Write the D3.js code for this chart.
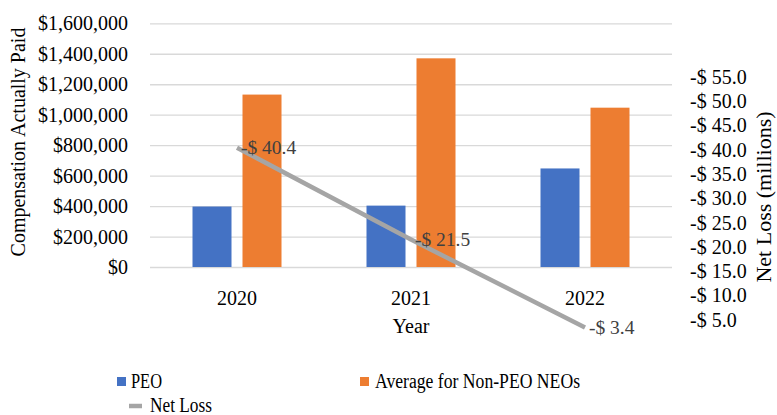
<!DOCTYPE html>
<html lang="en">
<head>
  <script src="https://d3js.org/d3.v7.min.js"></script>
  <style>
    body { margin: 0; background: #fff; }
    svg text { font-family: 'Liberation Serif', 'DejaVu Serif', serif; }
  </style>
</head>
<body>
<svg width="777" height="415" font-family="Liberation Serif, DejaVu Serif, serif"></svg>
<script>
  // chart data
  var years = ["2020", "2021", "2022"];
  var peo = [397000, 403000, 647000];
  var nonPeo = [1132000, 1370000, 1046000];
  var netLoss = [40.4, 21.5, 3.4];   // shown as negative millions
  var leftTicks = [0, 200000, 400000, 600000, 800000, 1000000, 1200000, 1400000, 1600000];
  var rightTicks = [5, 10, 15, 20, 25, 30, 35, 40, 45, 50, 55];

  var svg = d3.select("svg");
  var fs = "20px";

  var x0 = d3.scaleBand().domain(years).range([150, 672]);
  var x1 = d3.scaleBand().domain(["peo", "non"])
      .range([(x0.bandwidth() - 89) / 2, (x0.bandwidth() + 89) / 2])
      .paddingInner(0.22);
  var y = d3.scaleLinear().domain([0, 1600000]).range([267, 23.3]);
  var y2 = d3.scaleLinear().domain([0, 60]).range([344, 52.4]);

  // gridlines
  svg.append("g")
     .attr("transform", "translate(150,0)")
     .call(d3.axisLeft(y).tickValues(leftTicks).tickSize(-522).tickFormat(""))
     .call(function(g) {
        g.select(".domain").remove();
        g.selectAll("line").attr("stroke", "#d9d9d9").attr("stroke-width", 1.3);
     });

  // left tick labels
  svg.append("g")
     .selectAll("text")
     .data(leftTicks)
     .enter().append("text")
     .attr("x", 128)
     .attr("y", function(d) { return y(d); })
     .attr("dy", "0.35em")
     .attr("text-anchor", "end")
     .attr("font-size", fs)
     .attr("fill", "#000")
     .text(function(d) { return "$" + d3.format(",")(d); });

  svg.append("text")
     .attr("transform", "translate(25,142) rotate(-90)")
     .attr("text-anchor", "middle")
     .attr("font-size", fs)
     .text("Compensation Actually Paid");

  // right axis labels
  svg.append("g")
     .selectAll("text")
     .data(rightTicks)
     .enter().append("text")
     .attr("x", 690)
     .attr("y", function(d) { return y2(d); })
     .attr("dy", "0.35em")
     .attr("font-size", fs)
     .text(function(d) { return "-$ " + d3.format(".1f")(d); });

  svg.append("text")
     .attr("transform", "translate(771,197) rotate(-90)")
     .attr("text-anchor", "middle")
     .attr("font-size", "22px")
     .text("Net Loss (millions)");

  // year labels
  svg.append("g")
     .selectAll("text")
     .data(years)
     .enter().append("text")
     .attr("x", function(d) { return x0(d) + x0.bandwidth() / 2; })
     .attr("y", 305)
     .attr("text-anchor", "middle")
     .attr("font-size", fs)
     .text(function(d) { return d; });

  svg.append("text")
     .attr("x", x0("2021") + x0.bandwidth() / 2)
     .attr("y", 333)
     .attr("text-anchor", "middle")
     .attr("font-size", fs)
     .text("Year");

  // bars
  var groups = svg.selectAll(".grp")
     .data(years)
     .enter().append("g")
     .attr("class", "grp")
     .attr("transform", function(d) { return "translate(" + x0(d) + ",0)"; });

  groups.append("rect")
     .attr("x", x1("peo"))
     .attr("width", x1.bandwidth())
     .attr("y", function(d, i) { return y(peo[i]); })
     .attr("height", function(d, i) { return y(0) - y(peo[i]); })
     .attr("fill", "#4472c4");

  groups.append("rect")
     .attr("x", x1("non"))
     .attr("width", x1.bandwidth())
     .attr("y", function(d, i) { return y(nonPeo[i]); })
     .attr("height", function(d, i) { return y(0) - y(nonPeo[i]); })
     .attr("fill", "#ed7d31");

  // net loss line
  var line = d3.line()
     .x(function(d, i) { return x0(years[i]) + x0.bandwidth() / 2; })
     .y(function(d) { return y2(d); });

  svg.append("path")
     .datum(netLoss)
     .attr("d", line)
     .attr("fill", "none")
     .attr("stroke", "#a5a5a5")
     .attr("stroke-width", 4.5);

  svg.append("g")
     .selectAll("text")
     .data(netLoss)
     .enter().append("text")
     .attr("x", function(d, i) { return x0(years[i]) + x0.bandwidth() / 2 + 4; })
     .attr("y", function(d) { return y2(d); })
     .attr("dy", "0.35em")
     .attr("font-size", "19.5px")
     .attr("fill", "#404040")
     .text(function(d) { return "-$ " + d; });

  // legend (text is a little condensed in the original)
  var lfs = "20px";
  var legend = svg.append("g");
  legend.append("rect").attr("x", 117).attr("y", 377).attr("width", 9).attr("height", 9).attr("fill", "#4472c4");
  legend.append("text").attr("x", 131).attr("y", 388).attr("font-size", lfs)
        .attr("textLength", 31).attr("lengthAdjust", "spacingAndGlyphs").text("PEO");
  legend.append("rect").attr("x", 360).attr("y", 377).attr("width", 9).attr("height", 9).attr("fill", "#ed7d31");
  legend.append("text").attr("x", 375).attr("y", 388).attr("font-size", lfs)
        .attr("textLength", 205).attr("lengthAdjust", "spacingAndGlyphs").text("Average for Non-PEO NEOs");
  legend.append("line").attr("x1", 129).attr("x2", 142).attr("y1", 406).attr("y2", 406)
        .attr("stroke", "#a5a5a5").attr("stroke-width", 4.5);
  legend.append("text").attr("x", 150).attr("y", 412).attr("font-size", lfs)
        .attr("textLength", 62).attr("lengthAdjust", "spacingAndGlyphs").text("Net Loss");
</script>
</body>
</html>
